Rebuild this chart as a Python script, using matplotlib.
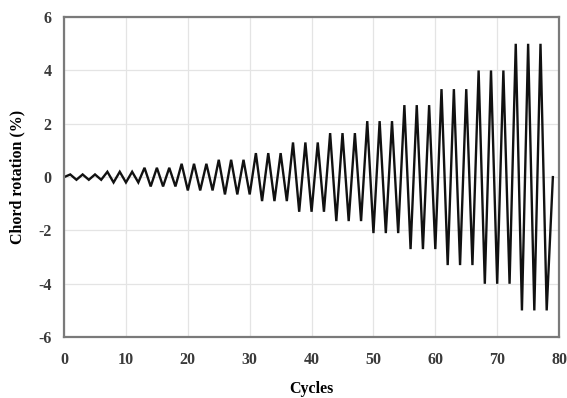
import matplotlib.pyplot as plt
import numpy as np

# chord rotation amplitude (%) of each loading level, 3 cycles per level
amplitudes = [0.1, 0.2, 0.35, 0.5, 0.65, 0.9, 1.3, 1.65, 2.1, 2.7, 3.3, 4.0, 5.0]
cycles_per_level = 3

x_ticks = [0, 10, 20, 30, 40, 50, 60, 70, 80]
y_ticks = [-6, -4, -2, 0, 2, 4, 6]

# build the loading history: start at 0, peak / trough per cycle, back to 0
xs = [0]
ys = [0.0]
step = 1
for amp in amplitudes:
    for _ in range(cycles_per_level):
        xs.append(step)
        ys.append(amp)
        xs.append(step + 1)
        ys.append(-amp)
        step += 2
xs.append(step)
ys.append(0.0)

plt.rcParams["font.family"] = ["Liberation Serif", "DejaVu Serif"]

fig = plt.figure(figsize=(5.67, 3.98), dpi=100)
ax = fig.add_axes([0.113, 0.153, 0.873, 0.804])

ax.plot(xs, ys, color="#111111", linewidth=1.7, solid_joinstyle="miter")

ax.set_xlim(0, 80)
ax.set_ylim(-6, 6)
ax.set_xticks(x_ticks)
ax.set_yticks(y_ticks)
ax.set_yticklabels([str(v) for v in y_ticks])
ax.grid(True, color="#e4e4e4", linewidth=0.9)
ax.set_axisbelow(True)
ax.tick_params(length=0, labelsize=11.5, colors="#3a3a3a")
ax.tick_params(axis="x", pad=11)
ax.tick_params(axis="y", pad=9)
for lbl in ax.get_xticklabels() + ax.get_yticklabels():
    lbl.set_fontweight("bold")

for side in ["left", "bottom", "top", "right"]:
    ax.spines[side].set_color("#7a7a7a")
    ax.spines[side].set_linewidth(1.6)

ax.set_xlabel("Cycles", fontsize=11.5, fontweight="bold", labelpad=9)
ax.set_ylabel("Chord rotation (%)", fontsize=11.5, fontweight="bold", labelpad=9)

fig.savefig("out.png", dpi=100)
